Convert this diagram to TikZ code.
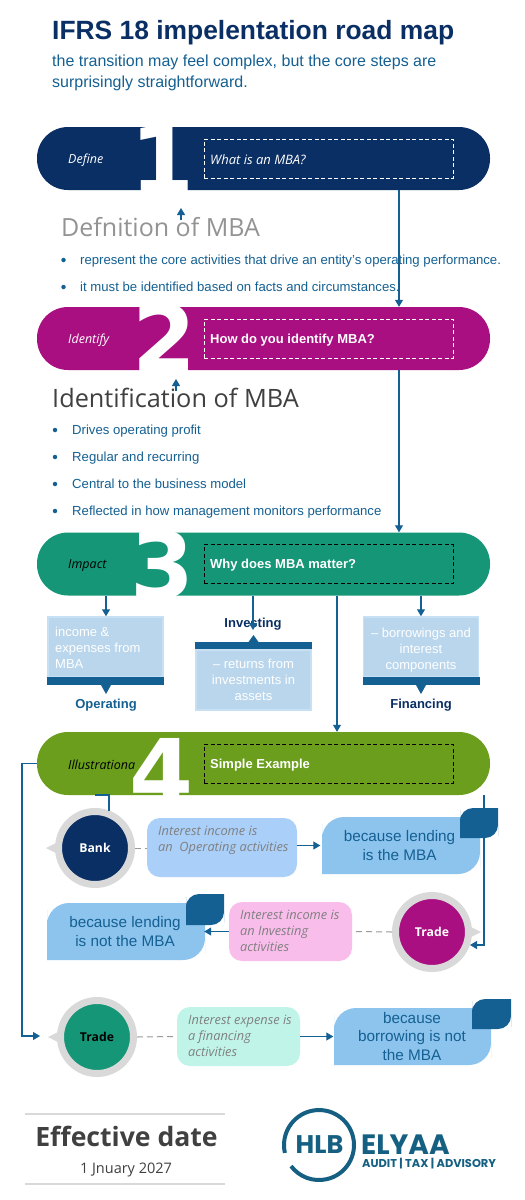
\documentclass[tikz,border=0pt]{standalone}
\usepackage{fontspec}
\setmainfont{Liberation Sans}
\newfontfamily\seg{Open Sans}
\newfontfamily\djv{DejaVu Sans}
\newfontfamily\pop{Poppins}
\usetikzlibrary{arrows.meta}
\definecolor{navy}{HTML}{0A2F64}
\definecolor{tealblue}{HTML}{156092}
\definecolor{magen}{HTML}{A90F80}
\definecolor{sea}{HTML}{159677}
\definecolor{olive}{HTML}{6A9E1C}
\definecolor{pale}{HTML}{BAD6EC}
\definecolor{paleedge}{HTML}{C8E0F3}
\definecolor{skyb}{HTML}{8CC4EE}
\definecolor{ringg}{HTML}{D9D9D9}
\definecolor{logo}{HTML}{156082}
\definecolor{ione}{HTML}{AACFF8}
\definecolor{itwo}{HTML}{F9BDEB}
\definecolor{ithree}{HTML}{C0F4E8}
\newcommand{\fs}[2]{\fontsize{#1}{#2}\selectfont}
\newcommand{\twocorner}[6]{%
  \pgfmathsetmacro{\xm}{(#1+#3)/2}\pgfmathsetmacro{\ym}{(#2+#4)/2}%
  \fill[#6] (\xm,#2) [rounded corners=#5pt] -- (#1,#2) -- (#1,\ym) [sharp corners] -- (#1,#4) -- (\xm,#4) [rounded corners=#5pt] -- (#3,#4) -- (#3,\ym) [sharp corners] -- (#3,#2) -- cycle;}
\tikzset{
  bar/.style={rectangle,rounded corners=31pt,minimum width=453pt,minimum height=63pt,inner sep=0pt,fill=#1},
  dbox/.style={rectangle,draw=#1,line width=.8pt,dash pattern=on 4pt off 2.5pt,minimum width=249pt,minimum height=39pt,inner sep=0pt},
  numeral/.style={anchor=base,inner sep=0pt,text=white,font=\djv\bfseries\fs{92}{92}},
  barlab/.style={anchor=west,inner sep=0pt,font=\seg\itshape\fs{12.5}{15}},
  boxlab/.style={anchor=west,inner sep=0pt,text=white,font=\bfseries\fs{13}{16}},
  conn/.style={draw=tealblue,line width=1.1pt,-{Triangle[length=7pt,width=8pt]}},
  plainl/.style={draw=tealblue,line width=1.1pt},
  dashl/.style={draw=gray!80,line width=1pt,dash pattern=on 6pt off 4pt},
  bul/.style={anchor=base west,inner sep=0pt,text=tealblue,font=\fs{13.15}{16}},
  dot/.style={circle,fill=tealblue,minimum size=4.5pt,inner sep=0pt},
  pbox/.style={rectangle,fill=pale,draw=paleedge,line width=1.5pt,minimum width=115pt,inner sep=0pt,text=white,font=\fs{13}{16},align=center},
  band/.style={rectangle,fill=tealblue,minimum width=117pt,minimum height=8pt,inner sep=0pt},
  clab/.style={inner sep=0pt,font=\bfseries\fs{13}{16}},
  ibox/.style={rectangle,rounded corners=13pt,minimum height=59pt,inner sep=0pt,fill=#1},
  itxt/.style={anchor=west,inner sep=0pt,align=left,text=gray,font=\seg\itshape\fs{12.8}{16}},
  ktxt/.style={inner sep=0pt,align=center,text=tealblue,font=\fs{15.3}{18.3}},
  disc/.style={circle,draw=ringg,line width=7pt,fill=#1,minimum size=73pt,inner sep=0pt,font=\seg\bfseries\fs{12.2}{16}},
  rulel/.style={draw=ringg,line width=1.3pt},
}
\begin{document}
\begin{tikzpicture}[x=1pt,y=-1pt]
\useasboundingbox (0,0) rectangle (525,1200);
\fill[white] (0,0) rectangle (525,1200);
% title
\node[anchor=base west,inner sep=0pt,text=navy,font=\bfseries\fs{26.4}{30}] (title) at (52,39) {IFRS 18 impelentation road map};
\node[anchor=north west,inner sep=0pt,text=tealblue,font=\fs{16}{20.5},align=left] (sub) at (52,55) {the transition may feel complex, but the core steps are\\surprisingly straightforward.};
% bars
\node[bar=navy] (b1) at (263.5,158.5) {};
\node[bar=magen] (b2) at (263.5,338.5) {};
\node[bar=sea] (b3) at (263.5,564) {};
\node[bar=olive] (b4) at (263.5,763.5) {};
% numerals
\node[numeral] (n1) at (163,192) {1};
\node[numeral] (n2) at (165,371) {2};
\node[numeral] (n3) at (163,598) {3};
\node[numeral] (n4) at (162,805) {4};
% bar labels
\node[barlab,text=white] (l1) at (68,160) {Define};
\node[barlab,text=white] (l2) at (68,340) {Identify};
\node[barlab,text=black] (l3) at (68,565.5) {Impact};
\node[barlab,text=black] (l4) at (68,765) {Illustrationa};
\node[dbox=white] (d1) at (328.5,158.5) {};
\node[dbox=white] (d2) at (328.5,338.5) {};
\node[dbox=black] (d3) at (328.5,564) {};
\node[dbox=black] (d4) at (328.5,763.5) {};
\node[anchor=west,inner sep=0pt,text=white,font=\seg\itshape\fs{13}{15}] (t1) at (210,160) {What is an MBA?};
\node[boxlab] (t2) at (210,340) {How do you identify MBA?};
\node[boxlab] (t3) at (210,565.5) {Why does MBA matter?};
\node[boxlab] (t4) at (210,765) {Simple Example};
% section 1 text
\node[anchor=base west,inner sep=0pt,text=gray!85,font=\seg\fs{25}{30}] (h1) at (61,236) {Defnition of MBA};
\node[dot] (p11) at (63.5,260) {};
\node[bul] (s11) at (80,264.5) {represent the core activities that drive an entity’s operating performance.};
\node[dot] (p12) at (63.5,287) {};
\node[bul] (s12) at (80,291) {it must be identified based on facts and circumstances.};
% section 2 text
\node[anchor=base west,inner sep=0pt,text=black!75,font=\seg\fs{25.3}{30}] (h2) at (52,407) {Identification of MBA};
\node[dot] (p21) at (55,430) {};
\node[bul] (s21) at (72,434.5) {Drives operating profit};
\node[dot] (p22) at (55,457) {};
\node[bul] (s22) at (72,461.5) {Regular and recurring};
\node[dot] (p23) at (55,484) {};
\node[bul] (s23) at (72,488.5) {Central to the business model};
\node[dot] (p24) at (55,511) {};
\node[bul] (s24) at (72,515.5) {Reflected in how management monitors performance};
% connectors between bars
\coordinate (c12) at (399,0);
\coordinate (u1) at (181,208);
\coordinate (u1b) at (181,220);
\coordinate (u2) at (176,379);
\coordinate (u2b) at (176,391);
\draw[conn] (b1.south -| c12) -- (b2.north -| c12);
\draw[conn] (b2.south -| c12) -- (b3.north -| c12);
\draw[conn] (u1b) -- (u1);
\draw[conn] (u2b) -- (u2);
% cards
\node[pbox,minimum height=60pt] (o) at (105.5,647) {};
\node[anchor=north west,inner sep=0pt,text=white,font=\fs{13}{16},align=left] (ot) at (55,627) {income \&\\expenses from\\MBA};
\node[band] (ob) at (105.5,681) {};
\fill[tealblue] (101,685) -- (111,685) -- (106,694) -- cycle;
\node[clab,text=tealblue] (ol) at (106,705) {Operating};
\node[clab,text=navy] (il) at (253,624.5) {Investing};
\node[band] (ib) at (253.5,646) {};
\fill[tealblue] (248.5,642) -- (258.5,642) -- (253.5,635) -- cycle;
\node[pbox,minimum height=60pt] (ii) at (253.5,680) {};
\node[inner sep=0pt,text=white,font=\fs{13}{16},align=center] (it) at (253.5,680) {– returns from\\investments in\\assets};
\node[pbox,minimum height=60pt] (f) at (421,647) {};
\node[inner sep=0pt,text=white,font=\fs{13}{16},align=center] (ft) at (421,650) {– borrowings and\\interest\\components};
\node[band] (fb) at (421,681) {};
\fill[tealblue] (416,685) -- (426,685) -- (421,694) -- cycle;
\node[clab,text=navy] (fl) at (421,705) {Financing};
\coordinate (x3a) at (106,0);
\coordinate (x3b) at (253,0);
\coordinate (x3c) at (337,0);
\coordinate (x3d) at (421,0);
\coordinate (invt) at (253,630);
\draw[conn] (b3.south -| x3a) -- (o.north -| x3a);
\draw[conn] (b3.south -| x3b) -- (invt);
\draw[conn] (b3.south -| x3d) -- (f.north -| x3d);
\draw[conn] (b3.south -| x3c) -- (b4.north -| x3c);
% discs
\fill[ringg] (46,848) -- (62,840) -- (62,856) -- cycle;
\node[disc=navy,text=white] (bank) at (95,848) {Bank};
\fill[ringg] (481,932) -- (465,924) -- (465,940) -- cycle;
\node[disc=magen,text=white] (trade1) at (432,932) {Trade};
\fill[ringg] (48,1037) -- (64,1029) -- (64,1045) -- cycle;
\node[disc=sea,text=black] (trade2) at (97,1037) {Trade};
% interest boxes
\node[ibox=ione,minimum width=150pt] (i1) at (222,847.5) {};
\node[itxt] (it1) at (158,840) {Interest income is\\an~~Operating activities};
\node[ibox=itwo,minimum width=123pt] (i2) at (290.5,931.5) {};
\node[itxt] (it2) at (240,931) {Interest income is\\an Investing\\activities};
\node[ibox=ithree,minimum width=123pt] (i3) at (238.5,1036.5) {};
\node[itxt] (it3) at (188,1036) {Interest expense is\\a financing\\activities};
% because boxes
\twocorner{322}{817}{480}{874}{22}{skyb}
\twocorner{460}{808}{498}{838}{13}{tealblue}
\node[ktxt,minimum width=158pt,minimum height=57pt] (k1) at (399.5,845.5) {because lending\\is the MBA};
\twocorner{47}{903}{205}{960}{22}{skyb}
\twocorner{186}{894}{224}{925}{13}{tealblue}
\node[ktxt,minimum width=158pt,minimum height=57pt] (k2) at (125,931.5) {because lending\\is not the MBA};
\twocorner{334}{1008}{491}{1065}{22}{skyb}
\twocorner{472}{999}{511}{1029}{13}{tealblue}
\node[ktxt,minimum width=157pt,minimum height=57pt] (k3) at (412,1036.5) {because\\borrowing is not\\the MBA};
% example connectors
\draw[conn] (i1.east |- k1) -- (k1.west);
\draw[conn] (i2.west) -- (k2.east);
\draw[conn] (i3.east) -- (k3.west);
\draw[dashl] (bank.east) -- (i1.west |- bank);
\draw[dashl] (trade1.west) -- (i2.east);
\draw[dashl] (trade2.east) -- (i3.west);
\coordinate (ls) at (22,763.5);
\coordinate (lt) at (40,1036);
\coordinate (lm) at (22,1036);
\draw[conn] (b4.west) -- (ls) -- (lm) -- (lt);
\coordinate (rs) at (484,795);
\coordinate (rm) at (484,945);
\coordinate (rt) at (470,945);
\draw[conn] (rs) -- (rm) -- (rt);
\coordinate (bs0) at (95,795);
\coordinate (bs1) at (109,795);
\coordinate (bs2) at (109,811);
\draw[plainl] (bs0) -- (bs1) -- (bs2);
% footer
\coordinate (r1a) at (25,1114);
\coordinate (r1b) at (225,1114);
\coordinate (r2a) at (25,1184);
\coordinate (r2b) at (225,1184);
\draw[rulel] (r1a) -- (r1b);
\draw[rulel] (r2a) -- (r2b);
\node[inner sep=0pt,text=black!75,font=\seg\bfseries\fs{26.6}{30}] (eff) at (126.5,1136) {Effective date};
\node[inner sep=0pt,text=black!75,font=\seg\fs{14.5}{16}] (dat) at (126,1170) {1 Jnuary 2027};
% logo
\draw[logo,line width=4pt] (284.9,1152.9) arc[start angle=193,end angle=-143,radius=35pt];
\node[inner sep=0pt,text=logo,font=\pop\bfseries\fs{25.5}{28}] (hlb) at (319.5,1145) {HLB};
\node[anchor=west,inner sep=0pt,text=logo,font=\pop\bfseries\fs{28}{30}] (ely) at (361,1145) {ELYAA};
\node[anchor=west,inner sep=0pt,text=logo,font=\pop\bfseries\fs{11.4}{12}] (aud) at (362,1164) {AUDIT | TAX | ADVISORY};
\end{tikzpicture}
\end{document}
